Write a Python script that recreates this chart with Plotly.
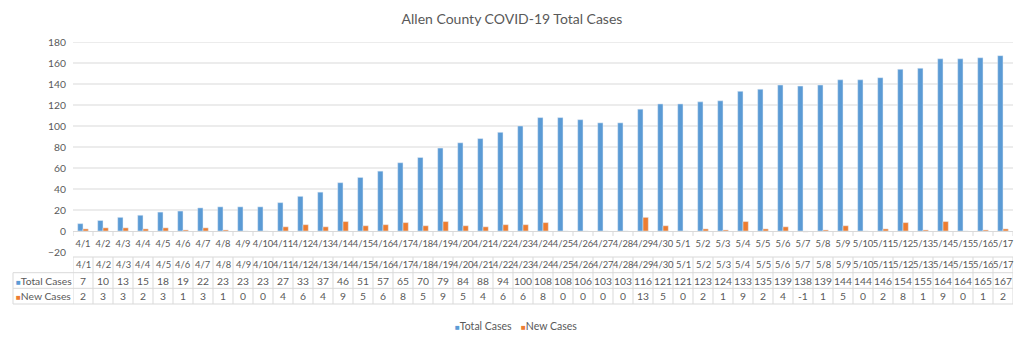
import plotly.graph_objects as go

dates = ["4/1","4/2","4/3","4/4","4/5","4/6","4/7","4/8","4/9","4/10","4/11","4/12","4/13","4/14",
         "4/15","4/16","4/17","4/18","4/19","4/20","4/21","4/22","4/23","4/24","4/25","4/26","4/27",
         "4/28","4/29","4/30","5/1","5/2","5/3","5/4","5/5","5/6","5/7","5/8","5/9","5/10","5/11",
         "5/12","5/13","5/14","5/15","5/16","5/17"]
total_cases = [7,10,13,15,18,19,22,23,23,23,27,33,37,46,51,57,65,70,79,84,88,94,100,108,108,106,
               103,103,116,121,121,123,124,133,135,139,138,139,144,144,146,154,155,164,164,165,167]
new_cases = [2,3,3,2,3,1,3,1,0,0,4,6,4,9,5,6,8,5,9,5,4,6,6,8,0,0,0,0,13,5,0,2,1,9,2,4,-1,1,5,0,
             2,8,1,9,0,1,2]
y_ticks = [-20,0,20,40,60,80,100,120,140,160,180]
series_names = ["Total Cases", "New Cases"]

BLUE = "#5B9BD5"
ORANGE = "#ED7D31"
TXT = "#595959"
GRID = "#D9D9D9"
FONT = "Lato"

W, H = 1024, 343
L, R, T, B = 72.7, 11.3, 42, 91
PW, PH = W - L - R, H - T - B

def py(p):  # pixel y -> paper y
    return (H - B - p) / PH

def px(p):  # pixel x -> paper x
    return (p - L) / PW

n = len(dates)
xs = list(range(n))

fig = go.Figure()
fig.add_trace(go.Bar(x=xs, y=total_cases, name=series_names[0], marker_color=BLUE))
fig.add_trace(go.Bar(x=xs, y=new_cases, name=series_names[1], marker_color=ORANGE))

shapes = []
# gridlines
for v in y_ticks:
    if v > 0:
        shapes.append(dict(type="line", xref="paper", yref="y", x0=0, x1=1, y0=v, y1=v,
                           line=dict(color=GRID, width=1), layer="below"))

# table geometry (pixel rows)
row_lines = [257, 272.7, 288.3, 304]
rows_c = [(row_lines[i] + row_lines[i + 1]) / 2 for i in range(3)]
lab_left = px(12.7)
shapes.append(dict(type="line", xref="paper", yref="paper", x0=0, x1=1,
                   y0=py(row_lines[0]), y1=py(row_lines[0]), line=dict(color=GRID, width=1)))
for r in row_lines[1:]:
    shapes.append(dict(type="line", xref="paper", yref="paper", x0=lab_left, x1=1,
                       y0=py(r), y1=py(r), line=dict(color=GRID, width=1)))
for i in range(n + 1):
    shapes.append(dict(type="line", xref="x", yref="paper", x0=i - 0.5, x1=i - 0.5,
                       y0=py(row_lines[0]), y1=py(row_lines[3]), line=dict(color=GRID, width=1)))
shapes.append(dict(type="line", xref="paper", yref="paper", x0=lab_left, x1=lab_left,
                   y0=py(row_lines[1]), y1=py(row_lines[3]), line=dict(color=GRID, width=1)))
# category boundary tick marks on the 0 axis line
for i in range(n + 1):
    shapes.append(dict(type="line", xref="x", yref="paper", x0=i - 0.5, x1=i - 0.5,
                       y0=py(231), y1=py(236), line=dict(color=GRID, width=1)))

ann = []
fs = 10.3
fs_date = 9.4
for i in range(n):
    for j, val in enumerate([dates[i], total_cases[i], new_cases[i]]):
        ann.append(dict(x=i, xref="x", y=py(rows_c[j]), yref="paper", text=str(val),
                        showarrow=False,
                        font=dict(family=FONT, size=fs_date if j == 0 else fs, color=TXT),
                        xanchor="center", yanchor="middle"))
for j, (nm, col) in enumerate([(series_names[0], BLUE), (series_names[1], ORANGE)]):
    ann.append(dict(x=px(13.5), xref="paper", y=py(rows_c[j + 1]), yref="paper",
                    text=f"<span style='color:{col};font-size:8px'>■</span>{nm}",
                    showarrow=False, font=dict(family=FONT, size=10.3, color=TXT),
                    xanchor="left", yanchor="middle"))
# legend (drawn as text with colour keys)
ann.append(dict(x=px(453), xref="paper", y=py(326), yref="paper",
                text=f"<span style='color:{BLUE};font-size:8px'>■</span>{series_names[0]}",
                showarrow=False, font=dict(family=FONT, size=10.5, color=TXT),
                xanchor="left", yanchor="middle"))
ann.append(dict(x=px(519), xref="paper", y=py(326), yref="paper",
                text=f"<span style='color:{ORANGE};font-size:8px'>■</span>{series_names[1]}",
                showarrow=False, font=dict(family=FONT, size=10.5, color=TXT),
                xanchor="left", yanchor="middle"))

fig.update_layout(
    width=W, height=H,
    margin=dict(l=L, r=R, t=T, b=B),
    paper_bgcolor="white", plot_bgcolor="white",
    title=dict(text="Allen County COVID-19 Total Cases", x=0.5, xanchor="center",
               y=1 - 19 / H, yanchor="middle", yref="container",
               font=dict(family=FONT, size=14, color=TXT)),
    bargap=0.47, bargroupgap=0,
    xaxis=dict(type="linear", range=[-0.5, n - 0.5], tickmode="array", tickvals=xs, ticktext=dates,
               tickangle=0, anchor="free", position=py(231), showline=True, linecolor=GRID,
               linewidth=1, ticks="", showgrid=False, zeroline=False,
               ticklabelstandoff=4,
               tickfont=dict(family=FONT, size=fs_date, color=TXT), fixedrange=True),
    yaxis=dict(range=[-20, 180], tickvals=y_ticks, showgrid=False, zeroline=False,
               showline=False, ticks="", ticklabelstandoff=6,
               tickfont=dict(family=FONT, size=fs, color=TXT)),
    showlegend=False,
    shapes=shapes, annotations=ann,
)

fig.write_html("out.html")
